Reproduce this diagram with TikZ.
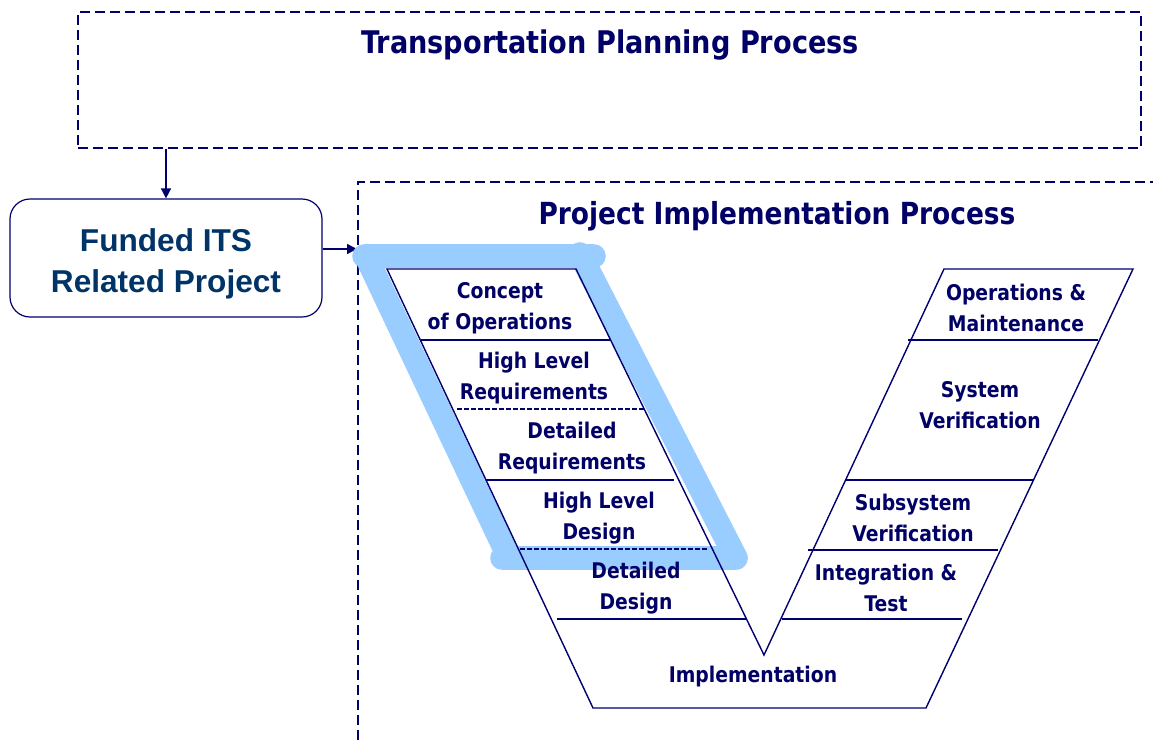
\documentclass[tikz,border=0pt]{standalone}
\usepackage{fontspec}
\setmainfont{DejaVu Sans}[FakeStretch=0.87]
\newfontfamily\arialfont{Liberation Sans}
\usetikzlibrary{arrows.meta,positioning}

\definecolor{vnavy}{RGB}{0,0,102}
\definecolor{vline}{RGB}{0,0,110}
\definecolor{fundblue}{RGB}{0,51,102}
\definecolor{vhigh}{RGB}{153,204,255}

\tikzset{
  procbox/.style={draw=vline, line width=1pt, dash pattern=on 5pt off 2.5pt},
  fundbox/.style={draw=vline, line width=0.6pt, rounded corners=10pt,
    minimum width=156pt, minimum height=59pt},
  fundtext/.style={align=center, text=fundblue,
    font=\arialfont\bfseries\fontsize{15.8}{20.5}\selectfont},
  proctitle/.style={text=vnavy, font=\bfseries\fontsize{15.6}{19}\selectfont},
  vlabel/.style={text=vnavy, align=center, inner sep=0pt,
    font=\bfseries\fontsize{10.8}{15.5}\selectfont},
  vedge/.style={draw=vline, line width=0.7pt, line join=miter},
  vrule/.style={draw=vline, line width=0.7pt},
  vdash/.style={draw=vline, line width=0.8pt, dash pattern=on 2.3pt off 1.2pt},
  hilite/.style={draw=vhigh, line width=11.8pt, line cap=round, line join=round},
  flow/.style={draw=vline, line width=0.75pt, -{Triangle[length=5pt,width=5pt]}}
}

\begin{document}
\begin{tikzpicture}[x=0.5pt, y=-0.5pt]
  \useasboundingbox (0,0) rectangle (1153,740);

  % planning and implementation frames
  \node[procbox, minimum width=531.5pt, minimum height=68pt] (plan) at (609.5,80) {};
  \node[proctitle] (planT) at (610,45) {Transportation Planning Process};
  \coordinate (implSW) at (358,740);
  \coordinate (implNW) at (358,182);
  \coordinate (implNE) at (1153,182);
  \draw[procbox] (implSW) -- (implNW) -- (implNE);
  \node[proctitle, font=\bfseries\fontsize{15.2}{19}\selectfont] (implT) at (777,216) {Project Implementation Process};

  % funded project
  \node[fundbox] (fund) at (166,258) {};
  \node[fundtext] (fundT) at (166,264) {Funded ITS\\Related Project};
  \coordinate (vin) at (357,249);
  \draw[flow] (plan.south -| fund.north) -- (fund.north);
  \draw[flow] (fund.east |- vin) -- (vin);

  % highlighted part of the V
  \draw[hilite] (364,256) -- (594,256)
                (580,254) -- (736,558) -- (502,558)
                (366,256) -- (508,556);

  % the V
  \coordinate (vA) at (387,269);
  \coordinate (vB) at (576,269);
  \coordinate (vC) at (764,655);
  \coordinate (vD) at (944,269);
  \coordinate (vE) at (1133,269);
  \coordinate (vF) at (926,708);
  \coordinate (vG) at (593,708);
  \draw[vedge] (vA) -- (vB) -- (vC) -- (vD) -- (vE) -- (vF) -- (vG) -- cycle;
  \foreach \l/\r/\y/\s in {421/611/340/vrule, 457/644/409/vdash, 486/674/480/vrule,
      520/707/549/vdash, 557/747/619/vrule, 908/1098/340/vrule, 845/1033/480/vrule,
      808/998/550/vrule, 782/962/619/vrule}{
    \draw[\s] (\l,\y) -- (\r,\y);
  }

  % phase labels
  \foreach \n/\x/\y/\t in {conops/500/308/{Concept\\of Operations},
      hlreq/534/378/{High Level\\Requirements},
      dreq/572/448/{Detailed\\Requirements},
      hldes/599/518/{High Level\\Design},
      ddes/636/588/{Detailed\\Design},
      impl/753/677/{Implementation},
      oandm/1016/308/{Operations \&\\Maintenance},
      sysv/980/405/{System\\Verification},
      subv/913/518/{Subsystem\\Verification},
      integ/886/588/{Integration \&\\Test}}{
    \node[vlabel] (\n) at (\x,\y) {\t};
  }
\end{tikzpicture}
\end{document}
